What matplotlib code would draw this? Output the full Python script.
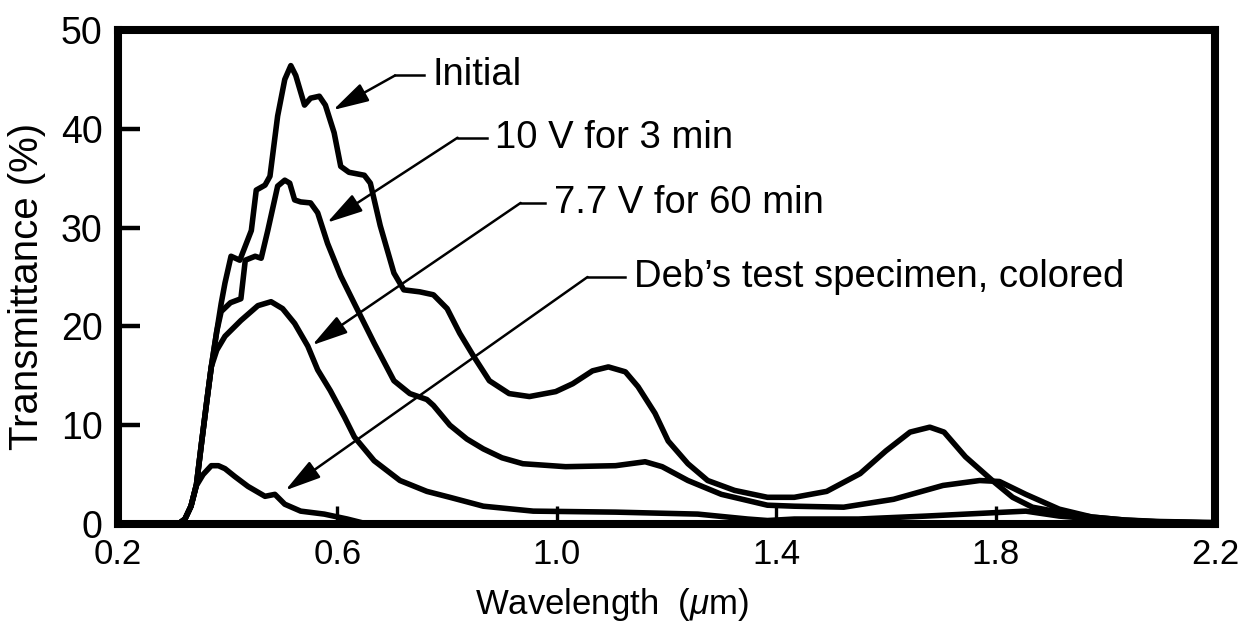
import matplotlib
matplotlib.use("Agg")
import matplotlib.pyplot as plt

# --- data ---
wl_initial = [0.20, 0.31, 0.322, 0.333, 0.343, 0.352, 0.362, 0.370, 0.380, 0.388,
              0.395, 0.406, 0.422, 0.443, 0.452, 0.468, 0.477, 0.491, 0.504, 0.515,
              0.524, 0.540, 0.551, 0.567, 0.578, 0.594, 0.606, 0.621, 0.649, 0.660,
              0.678, 0.703, 0.721, 0.750, 0.775, 0.800, 0.823, 0.848, 0.877, 0.913,
              0.950, 0.998, 1.029, 1.065, 1.094, 1.125, 1.148, 1.179, 1.203, 1.239,
              1.275, 1.324, 1.384, 1.433, 1.492, 1.553, 1.600, 1.644, 1.680, 1.706,
              1.745, 1.794, 1.831, 1.867, 1.916, 1.976, 2.035, 2.100, 2.200]
t_initial = [0.0, 0.0, 0.5, 1.8, 4.0, 8.1, 12.5, 15.9, 19.5, 22.3,
             24.4, 27.1, 26.7, 29.7, 33.8, 34.3, 35.2, 41.3, 45.0, 46.4,
             45.4, 42.4, 43.1, 43.3, 42.4, 39.6, 36.2, 35.6, 35.3, 34.5,
             30.2, 25.4, 23.7, 23.5, 23.2, 21.8, 19.3, 17.0, 14.5, 13.2,
             12.9, 13.4, 14.2, 15.5, 15.9, 15.4, 13.9, 11.2, 8.4, 6.1,
             4.4, 3.4, 2.7, 2.7, 3.3, 5.1, 7.4, 9.3, 9.8, 9.3,
             6.8, 4.4, 2.7, 1.7, 1.2, 0.7, 0.4, 0.2, 0.1]

wl_10v = [0.20, 0.31, 0.322, 0.333, 0.343, 0.352, 0.362, 0.370, 0.380, 0.388,
          0.405, 0.424, 0.432, 0.450, 0.461, 0.473, 0.491, 0.504, 0.513, 0.522,
          0.533, 0.551, 0.564, 0.582, 0.606, 0.631, 0.667, 0.703, 0.732, 0.763,
          0.775, 0.805, 0.836, 0.866, 0.900, 0.938, 1.016, 1.107, 1.161, 1.192,
          1.239, 1.300, 1.384, 1.433, 1.523, 1.614, 1.704, 1.771, 1.807, 1.855,
          1.916, 1.976, 2.035, 2.100, 2.200]
t_10v = [0.0, 0.0, 0.5, 1.8, 4.0, 8.1, 12.5, 15.9, 19.5, 21.5,
         22.4, 22.8, 26.7, 27.1, 26.9, 29.7, 34.2, 34.8, 34.5, 32.8,
         32.6, 32.5, 31.5, 28.4, 25.1, 22.3, 18.3, 14.5, 13.2, 12.6,
         12.0, 10.0, 8.6, 7.6, 6.7, 6.1, 5.8, 5.9, 6.3, 5.8,
         4.4, 3.0, 1.9, 1.8, 1.7, 2.5, 3.9, 4.4, 4.3, 3.0,
         1.5, 0.7, 0.4, 0.25, 0.15]

wl_77v = [0.20, 0.31, 0.322, 0.333, 0.343, 0.352, 0.362, 0.370, 0.380, 0.395,
          0.424, 0.455, 0.479, 0.500, 0.522, 0.546, 0.564, 0.587, 0.613, 0.631,
          0.667, 0.714, 0.763, 0.805, 0.866, 0.957, 1.107, 1.257, 1.348, 1.384,
          1.433, 1.550, 1.673, 1.818, 1.855, 1.916, 2.035, 2.200]
t_77v = [0.0, 0.0, 0.5, 1.8, 4.0, 8.1, 12.5, 15.9, 17.6, 19.0,
         20.6, 22.1, 22.5, 21.8, 20.3, 18.0, 15.6, 13.5, 10.8, 8.8,
         6.4, 4.4, 3.3, 2.7, 1.8, 1.3, 1.2, 1.0, 0.5, 0.35,
         0.5, 0.5, 0.8, 1.2, 1.3, 0.8, 0.25, 0.1]

wl_deb = [0.20, 0.31, 0.322, 0.333, 0.343, 0.355, 0.370, 0.383, 0.395, 0.413,
          0.437, 0.468, 0.486, 0.504, 0.533, 0.576, 0.618, 0.654, 0.70]
t_deb = [0.0, 0.0, 0.5, 1.8, 3.9, 5.0, 5.9, 5.9, 5.6, 4.8,
         3.8, 2.8, 3.0, 2.0, 1.3, 1.0, 0.5, 0.0, 0.0]

labels = ["Initial", "10 V for 3 min", "7.7 V for 60 min", "Deb\u2019s test specimen, colored"]
# arrow tip on the curve, elbow of the leader, text anchor (wavelength, transmittance)
tips = [(0.592, 41.9), (0.581, 30.5), (0.554, 18.1), (0.505, 3.4)]
elbows = [(0.705, 45.4), (0.819, 39.1), (0.934, 32.5), (1.056, 25.0)]
text_x = [0.773, 0.888, 0.994, 1.140]

xticks = [0.2, 0.6, 1.0, 1.4, 1.8, 2.2]
yticks = [0, 10, 20, 30, 40, 50]

plt.rcParams.update({
    "font.family": ["Liberation Sans", "DejaVu Sans"],
    "mathtext.fontset": "custom",
    "mathtext.it": "Liberation Sans:italic",
    "mathtext.rm": "Liberation Sans",
})

fig = plt.figure(figsize=(12.53, 6.39), dpi=100)
ax = fig.add_axes([0.0942, 0.18, 0.8755, 0.773])

for wl, t in [(wl_initial, t_initial), (wl_10v, t_10v), (wl_77v, t_77v), (wl_deb, t_deb)]:
    ax.plot(wl, t, color="black", linewidth=4.0, solid_joinstyle="round",
            solid_capstyle="round")

# leader lines with arrowheads
for lab, tip, elb, tx in zip(labels, tips, elbows, text_x):
    ax.plot([elb[0], tx - 0.016], [elb[1], elb[1]], color="black", linewidth=1.8)
    ax.annotate("", xy=tip, xytext=elb,
                arrowprops=dict(arrowstyle="-|>,head_length=1.1,head_width=0.3",
                                color="black", lw=1.8, mutation_scale=20,
                                shrinkA=0, shrinkB=0))
    ax.text(tx, elb[1], lab, fontsize=27.5, va="center", ha="left")

ax.set_xlim(0.2, 2.2)
ax.set_ylim(0, 50)
ax.set_xticks(xticks)
ax.set_xticklabels([f"{v:.1f}" for v in xticks])
ax.set_yticks(yticks)
ax.tick_params(axis="x", direction="in", length=13, width=2.4, labelsize=25, pad=10)
ax.tick_params(axis="y", direction="in", length=16, width=3.2, labelsize=27, pad=11)
for sp in ax.spines.values():
    sp.set_linewidth(5.8)

ax.set_xlabel(r"Wavelength  ($\mu$m)", fontsize=25)
ax.xaxis.set_label_coords(0.45, -0.125)
ax.set_ylabel("Transmittance (%)", fontsize=29)
ax.yaxis.set_label_coords(-0.066, 0.48)

fig.savefig("out.png", dpi=100, facecolor="white")
